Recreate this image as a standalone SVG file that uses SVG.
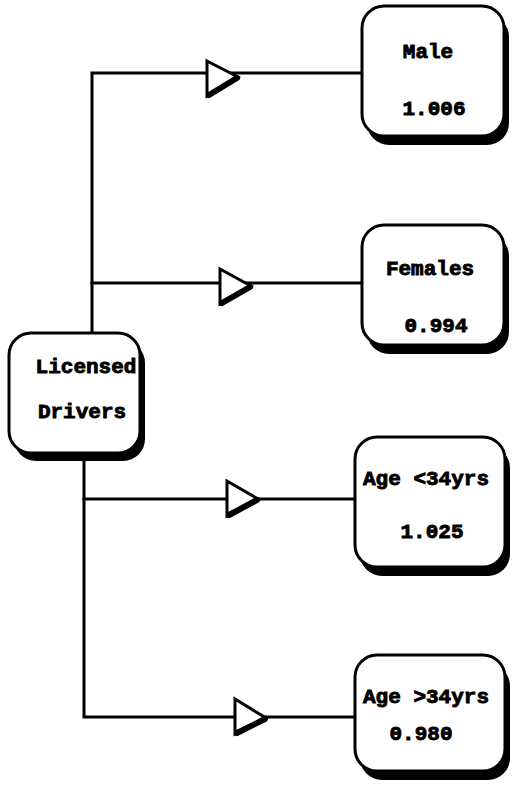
<svg xmlns="http://www.w3.org/2000/svg" width="512" height="793" viewBox="0 0 512 793">
<style>
.box{fill:#fff;stroke:#000;stroke-width:3}
.sh{fill:#000}
.ln{fill:none;stroke:#000;stroke-width:3;stroke-linecap:square}
.tri{fill:#fff;stroke:#000;stroke-width:3;stroke-linejoin:miter}
.triB{fill:none;stroke:#000;stroke-width:6;stroke-linecap:round}
text{font-family:"Liberation Mono","DejaVu Sans Mono",monospace;font-weight:bold;font-size:21px;fill:#000;stroke:#000;stroke-width:0.9;text-anchor:middle}
</style>
<rect width="512" height="793" fill="#fff"/>
<g id="connectors">
<path class="ln" d="M92,332 V73 H362"/>
<path class="ln" d="M92,283 H362"/>
<path class="ln" d="M84,462 V717 H355"/>
<path class="ln" d="M84,499 H355"/>
<path class="tri" d="M207,61 L238,77 L207,96 Z"/><path class="triB" d="M209,95 L237,78"/>
<path class="tri" d="M220,269 L251,286 L220,304 Z"/><path class="triB" d="M222,303 L250,287"/>
<path class="tri" d="M227,481 L258,499 L227,516 Z"/><path class="triB" d="M229,515 L257,500"/>
<path class="tri" d="M235,699 L266,718 L235,734 Z"/><path class="triB" d="M237,733 L265,719"/>
</g>
<g id="licensed-drivers">
<rect class="sh" x="14" y="341" width="131" height="120" rx="22"/>
<rect class="box" x="9" y="333" width="131" height="120" rx="22"/>
<text x="86" y="373">Licensed</text>
<text x="82" y="418">Drivers</text>
</g>
<g id="male">
<rect class="sh" x="367" y="15" width="142" height="130" rx="22"/>
<rect class="box" x="362" y="6" width="142" height="130" rx="22"/>
<text x="428" y="58">Male</text>
<text x="434" y="115">1.006</text>
</g>
<g id="females">
<rect class="sh" x="367" y="234" width="142" height="120" rx="22"/>
<rect class="box" x="362" y="225" width="142" height="120" rx="22"/>
<text x="430" y="275">Females</text>
<text x="436" y="332">0.994</text>
</g>
<g id="age-under-34">
<rect class="sh" x="360" y="446" width="150" height="130" rx="22"/>
<rect class="box" x="355" y="437" width="150" height="130" rx="22"/>
<text x="426" y="485">Age &lt;34yrs</text>
<text x="432" y="538">1.025</text>
</g>
<g id="age-over-34">
<rect class="sh" x="360" y="664" width="150" height="116" rx="22"/>
<rect class="box" x="355" y="655" width="150" height="116" rx="22"/>
<text x="426" y="703">Age &gt;34yrs</text>
<text x="421" y="740">0.980</text>
</g>
</svg>
